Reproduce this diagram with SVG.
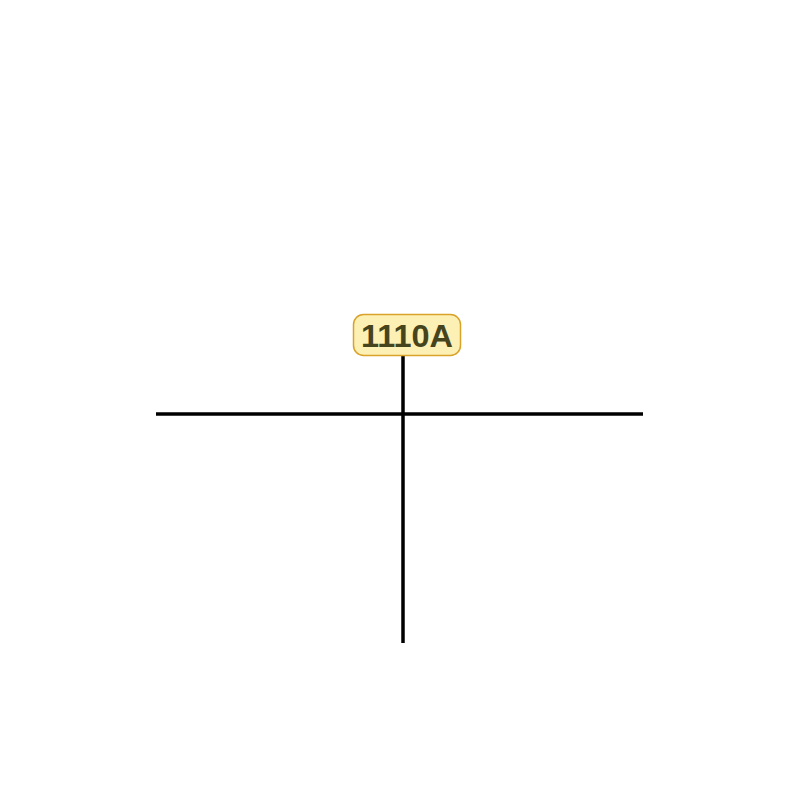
<svg xmlns="http://www.w3.org/2000/svg" width="800" height="800" viewBox="0 0 800 800">
<style>
.wire{stroke:#000;stroke-width:3.5;fill:none}
.lbl{fill:#fdf0b4;stroke:#d9a22a;stroke-width:1.5}
.txt{font-family:"Liberation Sans",Arial,sans-serif;font-weight:bold;font-size:32px;fill:#46441c}
</style>
<rect width="800" height="800" fill="#fff"/>
<g id="connectors">
<line class="wire" x1="156" y1="414" x2="643" y2="414"/>
<line class="wire" x1="403" y1="356" x2="403" y2="643"/>
</g>
<g id="label-1110A">
<rect class="lbl" x="353.5" y="314.5" width="107" height="41" rx="10"/>
<text class="txt" x="407" y="347" text-anchor="middle" textLength="92" lengthAdjust="spacingAndGlyphs">1110A</text>
</g>
</svg>
